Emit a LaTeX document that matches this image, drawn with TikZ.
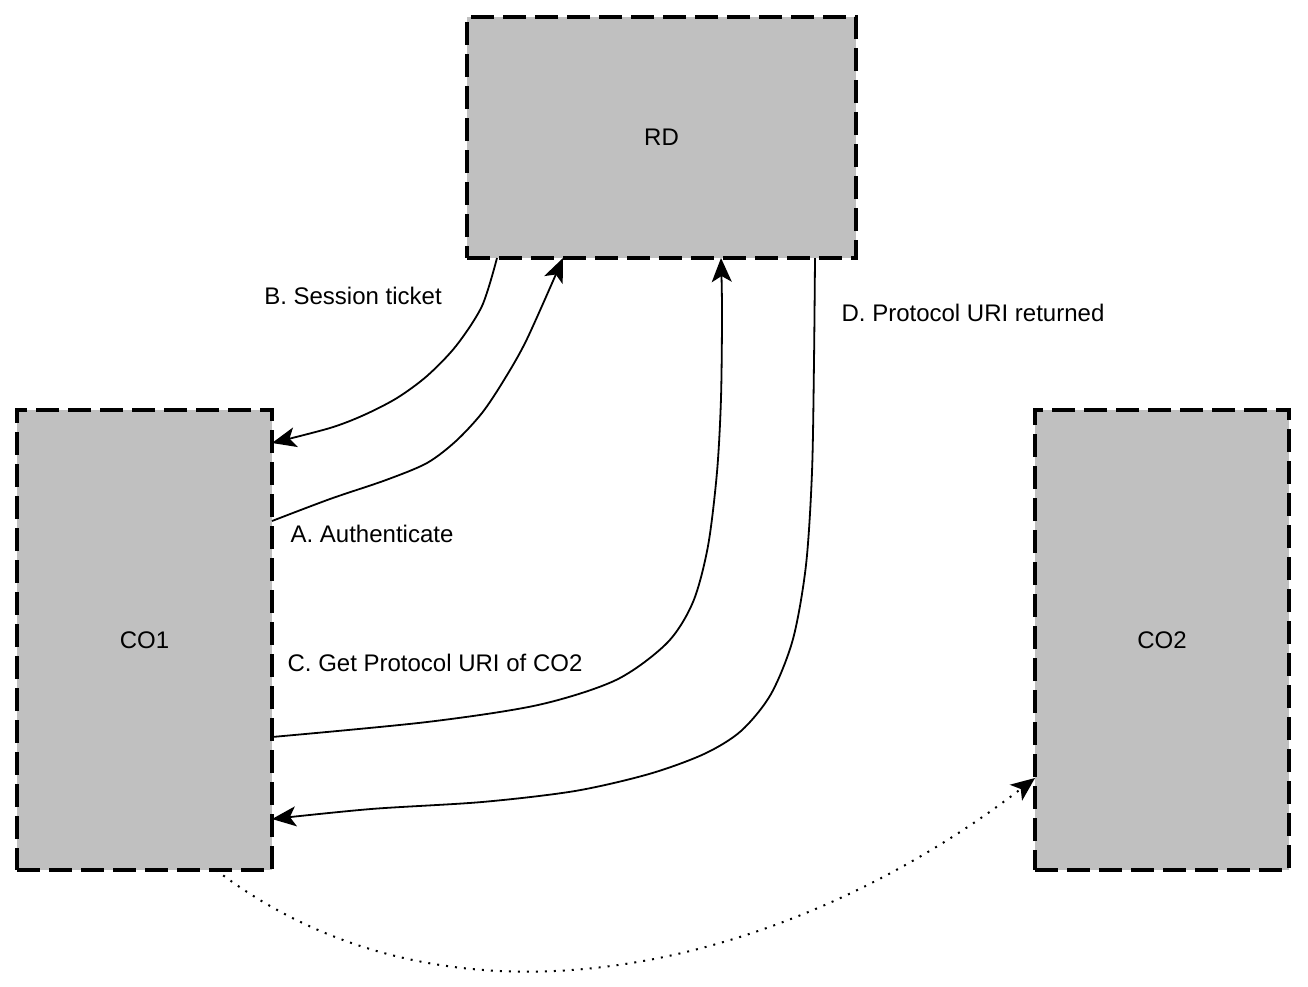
\documentclass[tikz,border=0pt]{standalone}
\usepackage{fontspec}
\setmainfont{Liberation Sans}
\usetikzlibrary{arrows.meta,calc}
\definecolor{boxgray}{HTML}{C0C0C0}
\begin{document}
\begin{tikzpicture}[x=1pt,y=-1pt,
  every node/.style={font=\fontsize{24}{28}\selectfont},
  box/.style={draw=black, fill=boxgray, line width=3.6pt, dash pattern=on 23pt off 9pt, inner sep=0pt, outer sep=0pt},
  conn/.style={line width=1.8pt, -{Stealth[length=24pt,width=20pt,inset=6pt]}},
  dotconn/.style={line width=2pt, dash pattern=on 2pt off 7pt, -{Stealth[length=24pt,width=20pt,inset=6pt]}},
  lbl/.style={inner sep=0pt}]
\useasboundingbox (0,0) rectangle (1308,986);
\node[box, minimum width=389pt, minimum height=241pt] (rd) at (661.5,137.5) {RD};
\node[box, minimum width=255pt, minimum height=460pt] (co1) at (144.5,640) {CO1};
\node[box, minimum width=254pt, minimum height=460pt] (co2) at (1162,640) {CO2};
% endpoints
\coordinate (aS) at ($(co1.east)+(0,-119)$);
\coordinate (aE) at ($(rd.south)+(-98.5,0)$);
\coordinate (bS) at ($(rd.south)+(-164.5,0)$);
\coordinate (bE) at ($(co1.east)+(0,-197)$);
\coordinate (cS) at ($(co1.east)+(0,97)$);
\coordinate (cE) at ($(rd.south)+(59.5,0)$);
\coordinate (dS) at ($(rd.south)+(153.5,0)$);
\coordinate (dE) at ($(co1.east)+(0,179)$);
\coordinate (eS) at ($(co1.south)+(71.5,0)$);
\coordinate (eE) at ($(co2.west)+(0,138)$);
% connectors
\draw[conn] plot[smooth, tension=0.5] coordinates {(aS) (330,499) (386,480) (427,463) (456,441) (482,413) (504,380) (527,339) (aE)};
\draw[conn] plot[smooth, tension=0.5] coordinates {(bS) (482,306) (456,346) (427,376) (397,398) (364,415) (330,428) (bE)};
\draw[conn] plot[smooth, tension=0.5] coordinates {(cS) (427,722) (538,705) (616,680) (667,643) (693,602) (708,546) (717,472) (721,398) (722,310) (cE)};
\draw[conn] plot[smooth, tension=0.5] coordinates {(dS) (814,361) (812,472) (806,565) (793,639) (771,694) (741,731) (704,754) (649,774) (575,791) (482,802) (371,809) (dE)};
\draw[dotconn] (eS) .. controls (458,1055) and (795,963) .. (eE);
% labels
\node[lbl] (lb) at (353,296) {B. Session ticket};
\node[lbl] (la) at (372,534) {A. Authenticate};
\node[lbl] (lc) at (435,663) {C. Get Protocol URI of CO2};
\node[lbl] (ld) at (973,313) {D. Protocol URI returned};
\end{tikzpicture}
\end{document}
